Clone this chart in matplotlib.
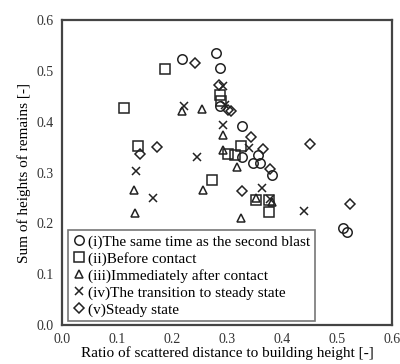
import matplotlib
matplotlib.use("Agg")
import matplotlib.pyplot as plt

plt.rcParams['font.family'] = ['Liberation Serif', 'DejaVu Serif']

labels = ["(i)The same time as the second blast", "(ii)Before contact",
          "(iii)Immediately after contact", "(iv)The transition to steady state",
          "(v)Steady state"]

c_x = [0.218, 0.280, 0.287, 0.287, 0.328, 0.328, 0.357, 0.348, 0.360, 0.381, 0.511, 0.518]
c_y = [0.524, 0.536, 0.506, 0.431, 0.391, 0.331, 0.335, 0.319, 0.319, 0.296, 0.191, 0.184]

s_x = [0.113, 0.188, 0.287, 0.289, 0.139, 0.302, 0.315, 0.326, 0.272, 0.352, 0.377, 0.376]
s_y = [0.427, 0.503, 0.452, 0.440, 0.352, 0.337, 0.334, 0.352, 0.286, 0.245, 0.245, 0.222]

t_x = [0.219, 0.254, 0.293, 0.293, 0.319, 0.131, 0.133, 0.257, 0.325, 0.352, 0.381]
t_y = [0.421, 0.425, 0.373, 0.345, 0.310, 0.266, 0.220, 0.266, 0.211, 0.250, 0.243]

x_x = [0.221, 0.293, 0.296, 0.293, 0.245, 0.135, 0.165, 0.340, 0.363, 0.440, 0.378]
x_y = [0.431, 0.471, 0.432, 0.394, 0.331, 0.304, 0.249, 0.348, 0.270, 0.224, 0.247]

d_x = [0.242, 0.285, 0.302, 0.308, 0.141, 0.172, 0.344, 0.366, 0.378, 0.451, 0.327, 0.524]
d_y = [0.515, 0.473, 0.423, 0.421, 0.337, 0.350, 0.370, 0.347, 0.306, 0.357, 0.264, 0.238]

fig = plt.figure(figsize=(4.0, 3.64), dpi=100)
ax = fig.add_axes([0.155, 0.107, 0.825, 0.838])

kw = dict(linestyle='none', markerfacecolor='none', markeredgecolor='#222222', markeredgewidth=1.1)
ax.plot(c_x, c_y, marker='o', markersize=6.8, label=labels[0], **kw)
ax.plot(s_x, s_y, marker='s', markersize=6.8, label=labels[1], **kw)
ax.plot(t_x, t_y, marker='^', markersize=6.3, label=labels[2], **kw)
ax.plot(x_x, x_y, marker='x', markersize=6.3, color='#222222', linestyle='none',
        markeredgewidth=1.1, label=labels[3])
ax.plot(d_x, d_y, marker='D', markersize=4.7, label=labels[4], **kw)

ax.set_xlim(0, 0.6)
ax.set_ylim(0, 0.6)
ax.set_xticks([0.0, 0.1, 0.2, 0.3, 0.4, 0.5, 0.6])
ax.set_yticks([0.0, 0.1, 0.2, 0.3, 0.4, 0.5, 0.6])
ax.xaxis.set_major_formatter(matplotlib.ticker.FormatStrFormatter('%.1f'))
ax.yaxis.set_major_formatter(matplotlib.ticker.FormatStrFormatter('%.1f'))
ax.tick_params(length=0, labelsize=10, pad=6, colors='#333333')
for sp in ax.spines.values():
    sp.set_linewidth(1.6)
    sp.set_color('#444444')

ax.set_xlabel("Ratio of scattered distance to building height [-]", fontsize=11, labelpad=0)
ax.set_ylabel("Sum of heights of remains [-]", fontsize=11, labelpad=4)

leg = ax.legend(loc='lower left', bbox_to_anchor=(0.018, 0.012), fontsize=11,
                frameon=True, fancybox=False, handlelength=0.8, handletextpad=0.2,
                borderpad=0.3, labelspacing=0.2, borderaxespad=0)
leg.get_frame().set_edgecolor('#555555')
leg.get_frame().set_linewidth(1.2)

fig.savefig("out.png", dpi=100)
